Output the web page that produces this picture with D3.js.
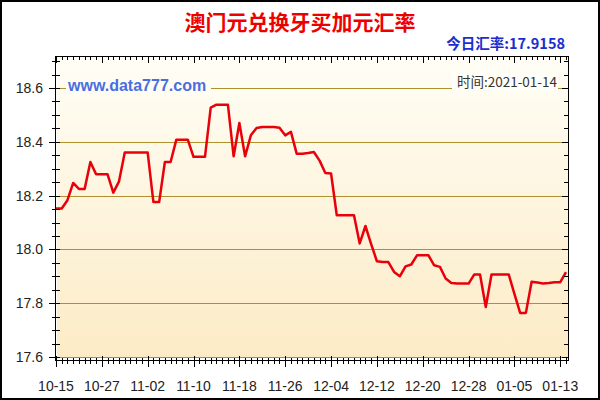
<!DOCTYPE html>
<html><head><meta charset="utf-8">
<script src="https://cdn.jsdelivr.net/npm/d3@7/dist/d3.min.js"></script>
<style>body{margin:0;background:#fff}svg{display:block}</style>
</head><body>
<svg id="c" width="600" height="400"></svg>
<script>
const title = "澳门元兑换牙买加元汇率";
const todayLabel = "今日汇率:17.9158";
const dateLabel = "时间:2021-01-14";
const watermark = "www.data777.com";
const xTickLabels = ["10-15","10-27","11-02","11-10","11-18","11-26","12-04","12-12","12-20","12-28","01-05","01-13"];
const yTicks = [17.6, 17.8, 18.0, 18.2, 18.4, 18.6];
const rates = [
 18.152,18.152,18.183,18.247,18.225,18.225,18.325,18.279,18.279,18.279,
 18.211,18.253,18.360,18.360,18.360,18.360,18.360,18.176,18.176,18.325,
 18.325,18.408,18.408,18.408,18.344,18.344,18.344,18.527,18.538,18.538,
 18.538,18.346,18.470,18.346,18.424,18.451,18.455,18.455,18.455,18.452,
 18.424,18.437,18.356,18.356,18.358,18.362,18.330,18.284,18.282,18.127,
 18.127,18.127,18.127,18.022,18.087,18.020,17.956,17.953,17.953,17.916,
 17.900,17.937,17.944,17.978,17.978,17.978,17.941,17.935,17.892,17.875,
 17.873,17.873,17.873,17.907,17.907,17.786,17.907,17.907,17.907,17.907,
 17.835,17.764,17.764,17.880,17.877,17.873,17.875,17.878,17.878,17.9158
];

const svg = d3.select("#c");
const L = 56, R = 566, T = 56, B = 357;
const x = d3.scaleLinear().domain([0, rates.length - 1]).range([L, R]);
const y = d3.scaleLinear().domain([17.6, 18.6]).range([357, 88]);

// outer frame
svg.append("rect").attr("x",1).attr("y",1).attr("width",598).attr("height",398)
  .attr("fill","#fff").attr("stroke","#000").attr("stroke-width",2);

const defs = svg.append("defs");
const g = defs.append("linearGradient").attr("id","bg").attr("x1",0).attr("y1",0).attr("x2",0).attr("y2",1);
g.append("stop").attr("offset","0%").attr("stop-color","#fffef6");
g.append("stop").attr("offset","100%").attr("stop-color","#fcebc6");

svg.append("rect").attr("x",L+1).attr("y",T).attr("width",R-L+1).attr("height",B-T)
  .attr("fill","url(#bg)");

// gridlines
svg.append("g").selectAll("line").data(yTicks).join("line")
  .attr("x1",L+1).attr("x2",R+2).attr("y1",d=>Math.round(y(d))+0.5).attr("y2",d=>Math.round(y(d))+0.5)
  .attr("stroke","#b0902c").attr("stroke-width",1);

// watermark & date label with background
svg.append("rect").attr("x",66).attr("y",78).attr("width",145).attr("height",18).attr("fill","#fffdf2");
svg.append("text").attr("x",68).attr("y",91).text(watermark)
  .attr("font-family","Liberation Sans, Arial, sans-serif").attr("font-weight","bold")
  .attr("font-size",16).attr("fill","#4a6ee0");
svg.append("rect").attr("x",452).attr("y",73).attr("width",106).attr("height",17).attr("fill","#fffef8");
svg.append("text").attr("x",557).attr("y",87).attr("text-anchor","end").text(dateLabel)
  .attr("font-family","Noto Sans CJK SC, sans-serif").attr("font-size",13.5).attr("fill","#333");

// line
svg.append("path").datum(rates)
  .attr("d", d3.line().x((d,i)=>x(i)).y(d=>y(d)))
  .attr("fill","none").attr("stroke","#e8000a").attr("stroke-width",2.5).attr("stroke-linejoin","round");

// axes
const idx = d3.range(rates.length);
const majors = idx.filter(i => i % 8 === 0);
const ax = svg.append("g").attr("stroke","#000").attr("stroke-width",1).attr("shape-rendering","crispEdges");
// bottom axis
ax.append("line").attr("x1",L).attr("x2",R+2).attr("y1",360.5).attr("y2",360.5);
ax.selectAll(".bt").data(idx).join("line")
  .attr("x1",d=>Math.round(x(d))+0.5).attr("x2",d=>Math.round(x(d))+0.5)
  .attr("y1",d=>d%8===0?356:358).attr("y2",d=>d%8===0?367:364);
// top axis
ax.append("line").attr("x1",L).attr("x2",R+2).attr("y1",T+0.5).attr("y2",T+0.5);
ax.selectAll(".tt").data(idx).join("line")
  .attr("x1",d=>Math.round(x(d))+0.5).attr("x2",d=>Math.round(x(d))+0.5)
  .attr("y1",T).attr("y2",d=>d%8===0?T+7:T+4);
// left axis
const yMinor = d3.range(0, 23).map(k => 17.6 + k*0.05).filter(v => v <= 18.72);
ax.append("line").attr("x1",55.5).attr("x2",55.5).attr("y1",T).attr("y2",361);
ax.selectAll(".lt").data(yMinor).join("line")
  .attr("x1",(d,i)=>i%4===0?49:52).attr("x2",60)
  .attr("y1",d=>Math.round(y(d))+0.5).attr("y2",d=>Math.round(y(d))+0.5);
// right axis
ax.append("line").attr("x1",R+2.5).attr("x2",R+2.5).attr("y1",T).attr("y2",361);
ax.selectAll(".rt").data(yMinor).join("line")
  .attr("x1",(d,i)=>i%4===0?R-4:R-2).attr("x2",R+2)
  .attr("y1",d=>Math.round(y(d))+0.5).attr("y2",d=>Math.round(y(d))+0.5);

// tick labels
svg.append("g").selectAll("text").data(yTicks).join("text")
  .attr("x",43).attr("y",d=>y(d)+5).attr("text-anchor","end").text(d=>d.toFixed(1))
  .attr("font-family","Liberation Sans, Arial, sans-serif").attr("font-size",14).attr("fill","#222");
svg.append("g").selectAll("text").data(majors).join("text")
  .attr("x",d=>x(d)).attr("y",391).attr("text-anchor","middle").text((d,i)=>xTickLabels[i])
  .attr("font-family","Liberation Sans, Arial, sans-serif").attr("font-size",14).attr("fill","#222");

// titles
svg.append("text").attr("x",300).attr("y",30).attr("text-anchor","middle").text(title)
  .attr("font-family","Noto Sans CJK SC, sans-serif").attr("font-weight","bold")
  .attr("font-size",21).attr("fill","#ee0000");
svg.append("text").attr("x",565).attr("y",49).attr("text-anchor","end").text(todayLabel)
  .attr("font-family","Noto Sans CJK SC, sans-serif").attr("font-weight","bold")
  .attr("font-size",14.5).attr("fill","#1a2ed0");
</script>
</body></html>
